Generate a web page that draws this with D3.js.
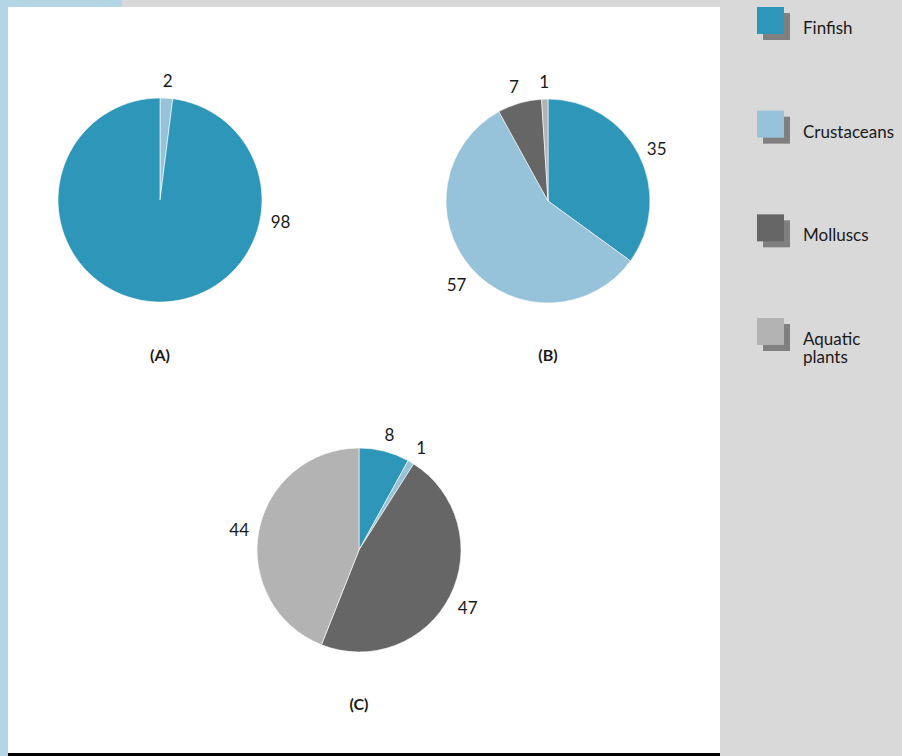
<!DOCTYPE html>
<html>
<head>
<meta charset="utf-8">
<script src="https://cdn.jsdelivr.net/npm/d3@7"></script>
<style>
  html, body { margin: 0; padding: 0; background: #d9d9d9; }
  svg { display: block; }
</style>
</head>
<body>
<svg id="chart" width="902" height="756"></svg>
<script>
/* ---------- data ---------- */
const categories = ['Finfish', 'Crustaceans', 'Molluscs', 'Aquatic plants'];
const colors     = ['#2e96b9', '#96c3d9', '#666666', '#b3b3b3'];

// each pie: slices in drawing order (clockwise from 12 o'clock)
const pieACats   = ['Crustaceans', 'Finfish'];
const pieAValues = [2, 98];
const pieBCats   = ['Finfish', 'Crustaceans', 'Molluscs', 'Aquatic plants'];
const pieBValues = [35, 57, 7, 1];
const pieCCats   = ['Finfish', 'Crustaceans', 'Molluscs', 'Aquatic plants'];
const pieCValues = [8, 1, 47, 44];
const pieTitles  = ['(A)', '(B)', '(C)'];

/* ---------- setup ---------- */
const svg = d3.select('#chart');
const color = d3.scaleOrdinal().domain(categories).range(colors);

// frame
svg.append('rect').attr('x', 0).attr('y', 0).attr('width', 902).attr('height', 756).attr('fill', '#d9d9d9');
svg.append('rect').attr('x', 0).attr('y', 0).attr('width', 8).attr('height', 756).attr('fill', '#b4d5e5');
svg.append('rect').attr('x', 0).attr('y', 0).attr('width', 122).attr('height', 7).attr('fill', '#b4d5e5');
svg.append('rect').attr('x', 8).attr('y', 7).attr('width', 712).attr('height', 746).attr('fill', '#ffffff');
svg.append('rect').attr('x', 8).attr('y', 753).attr('width', 712).attr('height', 3).attr('fill', '#000000');

/* ---------- pies ---------- */
const R = 102, labelR = 122;
const pies = [
  { cats: pieACats, vals: pieAValues, cx: 160, cy: 200, title: pieTitles[0], titleY: 355, labelAngle: { 1: 99 } },
  { cats: pieBCats, vals: pieBValues, cx: 548, cy: 201, title: pieTitles[1], titleY: 355, labelAngle: {} },
  { cats: pieCCats, vals: pieCValues, cx: 359, cy: 550, title: pieTitles[2], titleY: 704, labelAngle: {} },
];

const arc = d3.arc().innerRadius(0).outerRadius(R);
const pieGen = d3.pie().sort(null).value(d => d.v);

pies.forEach(p => {
  const data = p.cats.map((c, i) => ({ c, v: p.vals[i] }));
  const arcs = pieGen(data);
  const g = svg.append('g').attr('transform', `translate(${p.cx},${p.cy})`);

  g.selectAll('path').data(arcs).enter().append('path')
    .attr('d', arc)
    .attr('fill', d => color(d.data.c))
    .attr('stroke', '#ffffff')
    .attr('stroke-width', 0.6);

  g.selectAll('text.val').data(arcs).enter().append('text')
    .attr('class', 'val')
    .each(function (d, i) {
      const deg = p.labelAngle[i] !== undefined ? p.labelAngle[i] : (d.startAngle + d.endAngle) / 2 * 180 / Math.PI;
      const a = deg * Math.PI / 180;
      d3.select(this)
        .attr('x', Math.sin(a) * labelR)
        .attr('y', -Math.cos(a) * labelR + 3)
        .attr('dy', '0.35em');
    })
    .attr('text-anchor', 'middle')
    .attr('font-family', 'Lato, sans-serif')
    .attr('font-size', 17)
    .attr('fill', '#1a1a1a')
    .text(d => d.data.v);

  svg.append('text')
    .attr('x', p.cx).attr('y', p.titleY)
    .attr('dy', '0.35em')
    .attr('text-anchor', 'middle')
    .attr('font-family', 'Lato, sans-serif')
    .attr('font-weight', 'bold')
    .attr('font-size', 16)
    .attr('fill', '#1a1a1a')
    .text(p.title);
});

/* ---------- legend ---------- */
const legendY = d3.scalePoint().domain(categories).range([7, 318]);
const leg = svg.append('g');
categories.forEach(c => {
  const y = legendY(c);
  leg.append('rect').attr('x', 763).attr('y', y + 6).attr('width', 27).attr('height', 27).attr('fill', '#808080');
  leg.append('rect').attr('x', 757).attr('y', y).attr('width', 27).attr('height', 27).attr('fill', color(c));
  const t = leg.append('text')
    .attr('x', 803).attr('y', y + 27)
    .attr('font-family', 'Lato, sans-serif')
    .attr('font-size', 17)
    .attr('fill', '#1a1a1a');
  c.split(' ').forEach((w, i) => {
    t.append('tspan').attr('x', 803).attr('dy', i === 0 ? 0 : 17.5).text(w);
  });
});
</script>
</body>
</html>
